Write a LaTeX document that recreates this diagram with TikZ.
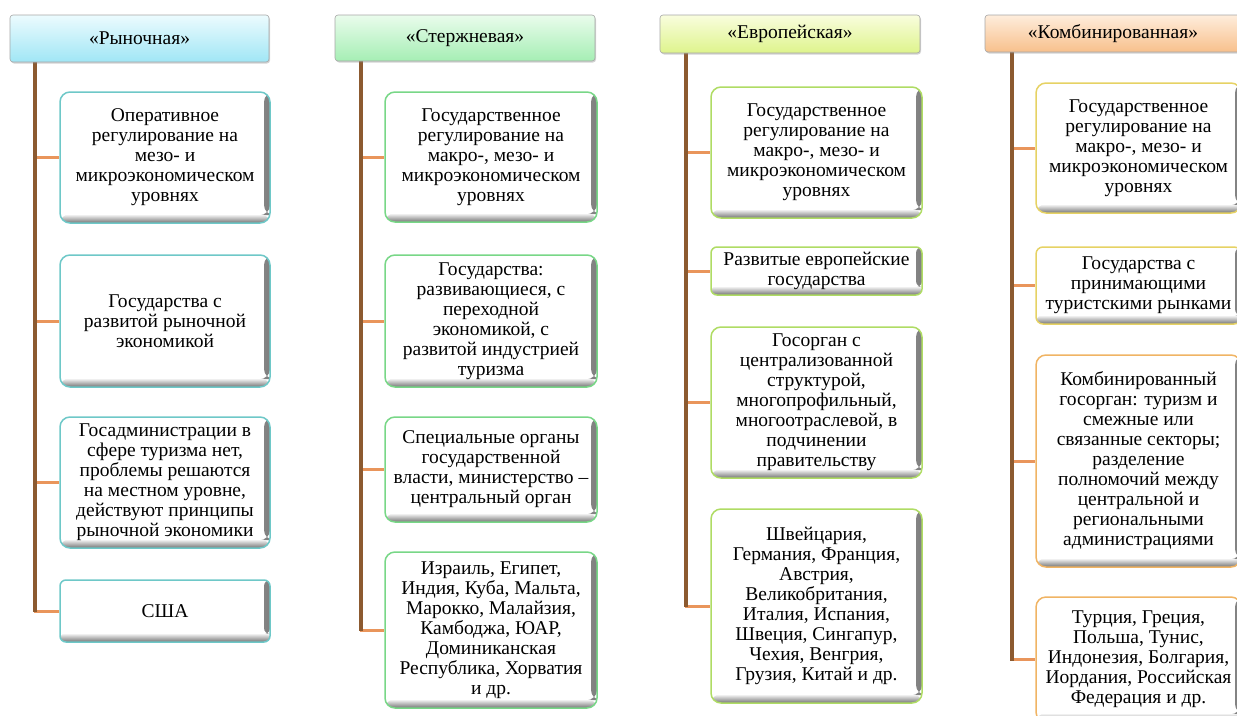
\documentclass[tikz,border=0pt]{standalone}
\usepackage{fontspec}
\setmainfont{Liberation Serif}
\usetikzlibrary{shadows,backgrounds}
\definecolor{cA}{RGB}{110,200,200}
\definecolor{cB}{RGB}{120,215,135}
\definecolor{cC}{RGB}{175,220,100}
\definecolor{cDa}{RGB}{230,210,100}
\definecolor{cDb}{RGB}{240,180,100}
\definecolor{hAt}{RGB}{236,251,254}
\definecolor{hAb}{RGB}{160,230,245}
\definecolor{hBt}{RGB}{234,252,236}
\definecolor{hBb}{RGB}{165,238,180}
\definecolor{hCt}{RGB}{249,253,222}
\definecolor{hCb}{RGB}{222,244,140}
\definecolor{hDt}{RGB}{254,237,220}
\definecolor{hDb}{RGB}{248,192,140}
\definecolor{trunkc}{RGB}{140,90,48}
\definecolor{branchc}{RGB}{233,149,91}
\begin{document}
\begin{tikzpicture}[x=1pt,y=-1pt,
  txt/.style={font=\fontsize{19.5}{20}\selectfont, align=center, inner sep=1pt, text=black},
  cbox/.style={txt, draw=#1, line width=1.5pt, rounded corners=10pt, fill=white,
    path picture={
      \shade[left color=white, right color=black!50] ([xshift=-6pt]path picture bounding box.north east) rectangle ([yshift=8pt]path picture bounding box.south east);
      \shade[top color=white, bottom color=black!55] ([yshift=9pt]path picture bounding box.south west) rectangle (path picture bounding box.south east);
    }},
  hdr/.style={txt, draw=black!35, line width=0.6pt, rounded corners=3pt,
    drop shadow={shadow xshift=1pt, shadow yshift=-1.5pt, opacity=0.35}},
  trunk/.style={draw=trunkc, line width=3.5pt},
  branch/.style={draw=branchc, line width=3pt}]
\useasboundingbox (0,0) rectangle (1237,715);
\clip (0,0) rectangle (1237,715);

% headers
\node[hdr, top color=hAt, bottom color=hAb, minimum width=259pt, minimum height=47pt] (h1) at (139.5,38.5) {«Рыночная»};
\node[hdr, top color=hBt, bottom color=hBb, minimum width=260pt, minimum height=46pt] (h2) at (465,38) {«Стержневая»};
\node[hdr, top color=hCt, bottom color=hCb, minimum width=260pt, minimum height=38pt] (h3) at (790,34) {«Европейская»};
\node[hdr, top color=hDt, bottom color=hDb, minimum width=256pt, minimum height=37pt] (h4) at (1113,33.5) {«Комбинированная»};

% column 1
\node[cbox=cA, minimum width=210pt, minimum height=131pt] (b11) at (165,157.5) {Оперативное\\регулирование на\\мезо- и\\микроэкономическом\\уровнях};
\node[cbox=cA, minimum width=210pt, minimum height=132pt] (b12) at (165,321) {Государства с\\развитой рыночной\\экономикой};
\node[cbox=cA, minimum width=210pt, minimum height=131pt] (b13) at (165,482.5) {Госадминистрации в\\сфере туризма нет,\\проблемы решаются\\на местном уровне,\\действуют принципы\\рыночной экономики};
\node[cbox=cA, rounded corners=6pt, minimum width=210pt, minimum height=62pt] (b14) at (165,611) {США};

% column 2
\node[cbox=cB, minimum width=212pt, minimum height=130pt] (b21) at (491,157) {Государственное\\регулирование на\\макро-, мезо- и\\микроэкономическом\\уровнях};
\node[cbox=cB, minimum width=212pt, minimum height=132pt] (b22) at (491,321) {Государства:\\развивающиеся, с\\переходной\\экономикой, с\\развитой индустрией\\туризма};
\node[cbox=cB, minimum width=212pt, minimum height=105pt] (b23) at (491,469.5) {Специальные органы\\государственной\\власти, министерство –\\центральный орган};
\node[cbox=cB, minimum width=212pt, minimum height=156pt] (b24) at (491,630) {Израиль, Египет,\\Индия, Куба, Мальта,\\Марокко, Малайзия,\\Камбоджа, ЮАР,\\Доминиканская\\Республика, Хорватия\\и др.};

% column 3
\node[cbox=cC, minimum width=211pt, minimum height=131pt] (b31) at (816.5,152.5) {Государственное\\регулирование на\\макро-, мезо- и\\микроэкономическом\\уровнях};
\node[cbox=cC, rounded corners=6pt, minimum width=211pt, minimum height=48pt] (b32) at (816.5,271) {Развитые европейские\\государства};
\node[cbox=cC, minimum width=211pt, minimum height=151pt] (b33) at (816.5,402.5) {Госорган с\\централизованной\\структурой,\\многопрофильный,\\многоотраслевой, в\\подчинении\\правительству};
\node[cbox=cC, minimum width=211pt, minimum height=194pt] (b34) at (816.5,606) {Швейцария,\\Германия, Франция,\\Австрия,\\Великобритания,\\Италия, Испания,\\Швеция, Сингапур,\\Чехия, Венгрия,\\Грузия, Китай и др.};

% column 4
\node[cbox=cDa, minimum width=205pt, minimum height=130pt] (b41) at (1138.5,148) {Государственное\\регулирование на\\макро-, мезо- и\\микроэкономическом\\уровнях};
\node[cbox=cDa, rounded corners=7pt, minimum width=205pt, minimum height=77pt] (b42) at (1138.5,285.5) {Государства с\\принимающими\\туристскими рынками};
\node[cbox=cDb, minimum width=205pt, minimum height=212pt] (b43) at (1138.5,461) {Комбинированный\\госорган: туризм и\\смежные или\\связанные секторы;\\разделение\\полномочий между\\центральной и\\региональными\\администрациями};
\node[cbox=cDb, minimum width=205pt, minimum height=125pt] (b44) at (1138.5,659.5) {Турция, Греция,\\Польша, Тунис,\\Индонезия, Болгария,\\Иордания, Российская\\Федерация и др.};

% connectors
\coordinate (t1) at (35,60);
\coordinate (t2) at (361,59);
\coordinate (t3) at (686,51);
\coordinate (t4) at (1012,50);
\begin{scope}[on background layer]
  \foreach \t/\c in {t1/1,t2/2,t3/3,t4/4}{
    \foreach \r in {1,2,3,4}{
      \draw[branch] ([xshift=-1.5pt]\t |- b\c\r.west) -- (b\c\r.west);
    }
    \draw[trunk] (\t) -- ([yshift=-1pt]\t |- b\c4.west);
  }
\end{scope}
\end{tikzpicture}
\end{document}
